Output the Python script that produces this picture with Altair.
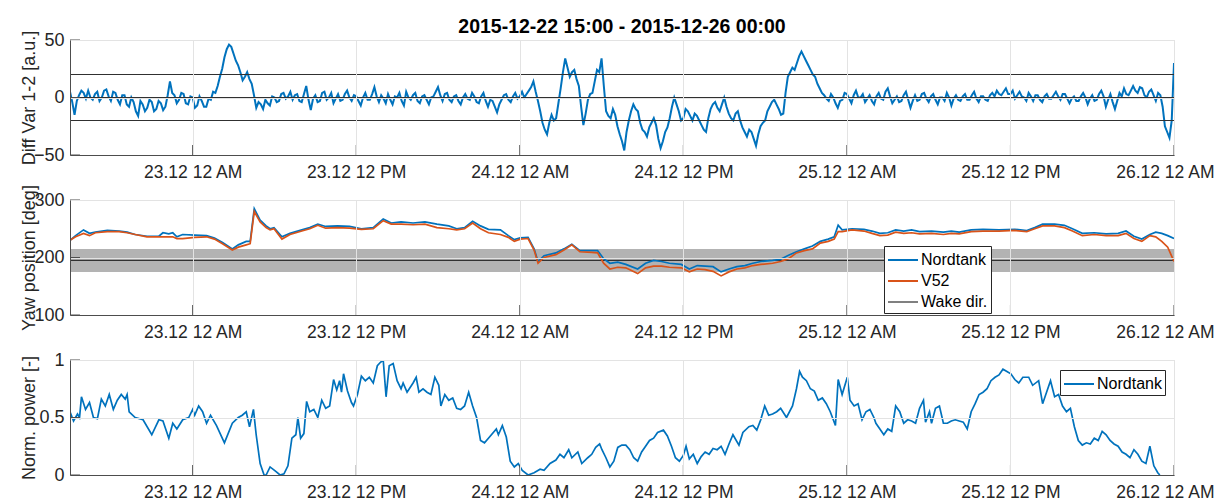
import altair as alt
import pandas as pd

# ---------------- data ----------------
START = pd.Timestamp("2015-12-22 15:00")
END = pd.Timestamp("2015-12-26 00:00")
TITLE = "2015-12-22 15:00 - 2015-12-26 00:00"
TICK_HOURS = [9, 21, 33, 45, 57, 69, 81]          # hours after START

# Panel 1: Diff Var 1-2, sampled every 10 min from START (one row per hour)
diff_step_min = 10
diff_values = [
    5, -4, -15, -3, 2, 6,   4, -1, 6, 0, -2, 3,   5, -3, 0, 6, 7, 1,
    -3, 5, 4, -2, -6, 2,   2, -6, -8, 0, -4, -12,   -16, -3, -6, -12, -9, -2,
    -4, -12, -10, -3, -5, -11,   -8, 2, 14, 4, 2, -5,   -2, 4, 3, -5, -6, 1,
    0, -9, -7, 1, -3, -8,   -8, -1, -2, 5, 4, 10,   18, 25, 35, 42, 46, 44,
    38, 32, 28, 22, 15, 18,   22, 16, 12, 2, -9, -4,   -6, -10, -2, -5, -7, 1,
    0, -4, -3, 3, 4, -1,   1, 5, -2, 2, 3, -3,   -4, 3, 10, -2, -11, -1,
    2, -4, -3, 4, 5, -2,   0, 4, -5, -1, 3, -3,   -2, 3, 6, 0, -3, 2,
    1, -3, -7, 0, 4, -2,   -2, 3, 9, 1, -4, 2,   -1, -5, 3, -2, -6, 1,
    0, 4, -3, -7, 5, 0,   -2, 2, 4, -3, -5, 1,   2, -2, -6, 0, 1, 5,
    9, 2, -3, 3, 4, -2,   -4, 1, 2, -3, -6, 0,   3, -1, -2, 4, 1, -4,
    -5, 1, 4, -3, -8, -2,   -3, -8, -13, -6, -2, 2,   3, -2, -4, 1, 4, -1,
    1, 5, 0, 3, 6, 9,   14, 5, -3, -12, -22, -28,   -32, -22, -15, -20, -18, -5,
    8, 22, 34, 26, 18, 22,   24, 16, 10, -8, -24, -14,   -2, 3, 4, 14, 24, 22,
    34, 10, -12, -16, -18, -10,   -15, -25, -32, -38, -46, -30,   -20, -12, -6, -10, -12, -22,
    -28, -30, -34, -26, -22, -18,   -24, -36, -44, -38, -30, -26,   -18, -8, 0, -6, -12, -20,
    -18, -10, -12, -16, -20, -14,   -16, -20, -24, -28, -30, -18,   -10, -6, -4, -9, -12, -6,
    0, -8, -14, -18, -20, -14,   -12, -20, -26, -30, -34, -28,   -30, -36, -42, -32, -25, -22,
    -20, -12, -8, -4, -2, -6,   -10, -15, -14, 4, 18, 22,   26, 24, 30, 36, 40, 36,
    32, 28, 24, 20, 18, 12,   8, 4, 2, -1, -3, 3,   0, -5, -9, -3, -2, 4,
    3, -1, -5, 2, 6, 0,   0, 3, -4, -1, 2, -3,   -6, 1, 4, -1, -2, 5,
    8, 1, -5, -2, 1, -4,   -3, 2, 5, -2, -9, -3,   2, -3, -2, 3, 4, -1,
    -4, 1, 3, -2, -6, 0,   0, -3, 4, 0, -7, -1,   2, -2, -3, 1, 3, -2,
    -2, 2, 5, -1, -4, 1,   1, -2, -3, 2, 4, 1,   6, 3, 2, 5, 8, 3,
    3, 6, -1, 2, 5, 1,   0, -3, 4, 1, -3, 2,   2, -2, -4, 1, 3, -1,
    -1, 2, 5, 1, -2, 3,   3, -1, -5, -1, 1, -3,   -3, 1, 4, 0, -6, -1,
    2, -3, -2, 3, 6, 1,   -8, -2, 3, -4, -10, -3,   4, 1, 8, 3, 2, 6,
    10, 6, 4, 9, 8, 2,   0, 5, 7, 2, -3, 4,   2, -8, -25, -30, -35, -20,
    30,
]
diff_ref_lines = [-20, 0, 20]
diff_ticks = [-50, 0, 50]

# Panel 2: yaw positions (hours after START)
yaw_hours = [
    0.00, 0.41, 0.99, 1.43, 1.86, 2.74, 3.61, 4.19, 4.78, 5.65,
    6.52, 6.82, 7.25, 7.54, 7.84, 8.27, 9.15, 10.02, 10.60, 11.19,
    11.91, 12.35, 12.93, 13.22, 13.52, 13.95, 14.39, 14.68, 14.97, 15.55,
    16.14, 17.01, 17.59, 18.18, 18.76, 19.63, 20.51, 21.38, 22.25, 22.98,
    23.57, 24.29, 25.17, 26.04, 26.92, 27.79, 28.37, 28.95, 29.54, 30.12,
    30.70, 31.58, 32.16, 32.60, 33.03, 33.61, 34.05, 34.34, 34.78, 35.65,
    36.24, 36.82, 37.41, 38.28, 38.71, 39.15,
    39.61, 40.19, 40.78, 41.65, 42.23, 42.82, 43.40, 43.98, 44.85, 45.44,
    46.02, 46.60, 47.18, 47.77, 48.35, 48.93, 49.51, 50.10, 50.68, 51.55,
    52.14, 52.72, 53.30, 53.88, 54.47, 55.05, 55.63, 56.07, 56.36, 56.65,
    57.38, 58.25, 58.84, 59.42, 60.00, 60.58, 61.17, 61.75, 62.33, 63.21,
    64.08, 64.66, 65.24, 66.12, 66.99, 68.16, 69.32, 70.20, 70.78, 71.36,
    72.24, 72.96, 73.55, 74.27, 75.15, 76.02, 76.90, 77.48, 78.06, 78.64,
    79.23, 79.66, 80.10, 80.54, 81.00,
]
yaw_nordtank = [
    230, 238, 248, 242, 244, 247, 246, 244, 240, 237,
    237, 243, 241, 243, 236, 240, 239, 238, 234, 226,
    215, 222, 228, 228, 285, 265, 255, 250, 252, 236,
    242, 248, 252, 258, 254, 255, 254, 250, 252, 267,
    260, 262, 260, 262, 258, 255, 250, 252, 263, 255,
    249, 248, 238, 231, 234, 235, 215, 193, 203, 208,
    215, 223, 212, 212, 212, 198,
    190, 192, 188, 180, 190, 195, 193, 190, 188, 180,
    186, 185, 184, 175, 180, 184, 186, 190, 193, 195,
    197, 204, 210, 215, 220, 228, 232, 236, 256, 248,
    250, 249, 246, 242, 243, 248, 246, 248, 245, 246,
    244, 246, 244, 248, 249, 248, 249, 247, 252, 258,
    258, 256, 250, 242, 243, 241, 242, 246, 237, 232,
    240, 244, 242, 238, 233,
]
yaw_v52 = [
    230, 236, 242, 238, 243, 245, 245, 243, 240, 236,
    236, 236, 236, 236, 233, 233, 235, 236, 232, 224,
    213, 218, 222, 224, 280, 262, 252, 248, 250, 232,
    240, 246, 250, 256, 251, 252, 251, 249, 250, 264,
    258, 258, 257, 258, 252, 250, 248, 250, 260, 250,
    243, 240, 235, 228, 232, 233, 213, 190, 200, 205,
    213, 222, 210, 209, 208, 190,
    180, 183, 182, 172, 182, 185, 185, 183, 182, 175,
    180, 179, 176, 168, 175, 180, 182, 186, 188, 190,
    193, 198, 208, 212, 215, 225, 228, 232, 245, 245,
    248, 246, 242, 238, 239, 244, 242, 243, 241, 242,
    240, 242, 241, 245, 246, 246, 247, 245, 250, 255,
    255, 252, 246, 238, 240, 238, 238, 242, 233, 228,
    238, 236, 228, 218, 193,
]
wake_dir = 195
wake_halfwidth = 20
yaw_ticks = [100, 200, 300]

# Panel 3: normalised power (hours after START)
power_hours = [
    0.00, 0.26, 0.55, 0.70, 0.84, 1.14, 1.43, 1.72, 2.01, 2.30,
    2.59, 2.88, 3.18, 3.47, 3.76, 4.05, 4.19, 4.34, 4.78, 5.36,
    6.00, 6.52, 6.82, 7.25, 7.54, 7.84, 8.27, 8.71, 9.00, 9.15,
    9.44, 9.73, 10.02, 10.31, 10.75, 11.33, 11.91, 12.35, 12.64, 12.93,
    13.17, 13.46, 13.66, 13.95, 14.24, 14.39, 14.68, 15.12, 15.41, 15.70,
    15.99, 16.28, 16.57, 16.72, 16.92, 17.16, 17.36, 17.59, 17.89, 18.18,
    18.47, 18.76, 19.05, 19.34, 19.57, 19.78, 19.92, 20.07, 20.36, 20.65,
    20.80, 21.09, 21.38, 21.67, 21.96, 22.25, 22.55, 22.78, 22.98, 23.19,
    23.42, 23.71, 24.00, 24.29, 24.44, 24.73, 25.17, 25.40, 25.60, 25.90,
    26.19, 26.48, 26.77, 27.06, 27.21, 27.50, 27.79, 28.08, 28.37, 28.66,
    28.95, 29.25, 29.54, 29.83, 30.12, 30.41, 30.70, 31.28, 31.43, 31.72,
    32.01, 32.30, 32.60, 32.89, 33.18, 33.61, 34.05, 34.49, 34.78, 35.22,
    35.65, 35.95, 36.24, 36.59, 36.82, 37.26, 37.55, 37.99, 38.28, 38.57,
    38.86,
    39.03, 39.32, 39.61, 39.90, 40.19, 40.49, 40.78, 41.07, 41.36, 41.65,
    41.94, 42.23, 42.52, 42.82, 43.11, 43.54, 43.83, 44.13, 44.42, 44.71,
    45.00, 45.20, 45.44, 45.73, 46.02, 46.31, 46.60, 46.89, 47.18, 47.48,
    47.77, 48.06, 48.35, 48.64, 49.08, 49.37, 49.81, 50.10, 50.39, 50.68,
    50.97, 51.26, 51.55, 51.85, 52.14, 52.57, 53.01, 53.30, 53.53, 53.74,
    54.03, 54.32, 54.61, 54.90, 55.20, 55.49, 55.78, 56.16, 56.36, 56.65,
    57.03, 57.23, 57.53, 57.82, 58.11, 58.40, 58.69, 58.98, 59.13, 59.42,
    59.71, 60.00, 60.29, 60.58, 60.88, 61.17, 61.46, 61.75, 62.04, 62.33,
    62.62, 62.77, 63.06, 63.21, 63.50, 63.79, 64.08, 64.37, 64.66, 64.95,
    65.24, 65.54, 65.83, 66.12, 66.41, 66.70, 66.99, 67.28, 67.57, 67.87,
    68.16, 68.45, 68.74, 69.03, 69.32, 69.61, 69.91, 70.34, 70.63, 71.07,
    71.36, 71.65, 71.94, 72.24, 72.53, 72.82, 73.11, 73.40, 73.69, 73.98,
    74.27, 74.57, 74.86, 75.15, 75.44, 75.73, 76.02, 76.31, 76.60, 76.90,
    77.19, 77.48, 77.77, 78.06, 78.35, 78.64, 78.94, 79.23, 79.52, 79.81,
    79.96,
]
power_values = [
    0.55, 0.47, 0.53, 0.5, 0.68, 0.57, 0.63, 0.5, 0.49, 0.66,
    0.6, 0.7, 0.57, 0.65, 0.7, 0.66, 0.7, 0.55, 0.5, 0.48,
    0.35, 0.48, 0.47, 0.32, 0.45, 0.4, 0.48, 0.5, 0.57, 0.52,
    0.6, 0.55, 0.45, 0.52, 0.43, 0.28, 0.45, 0.5, 0.52, 0.55,
    0.42, 0.57, 0.35, 0.1, 0.0, 0.0, 0.07, 0.03, 0.0, 0.01,
    0.08, 0.32, 0.35, 0.5, 0.32, 0.36, 0.64, 0.55, 0.57, 0.5,
    0.65, 0.58, 0.6, 0.83, 0.74, 0.82, 0.72, 0.88, 0.73, 0.63,
    0.6, 0.7, 0.86, 0.82, 0.85, 0.8, 0.95, 0.98, 1.0, 0.68,
    0.95, 0.97, 0.82, 0.75, 0.8, 0.72, 0.8, 0.85, 0.72, 0.75,
    0.72, 0.7, 0.85, 0.78, 0.6, 0.7, 0.65, 0.67, 0.58, 0.57,
    0.6, 0.72, 0.6, 0.5, 0.3, 0.28, 0.32, 0.4, 0.35, 0.43,
    0.33, 0.12, 0.07, 0.1, 0.04, 0.0, 0.02, 0.05, 0.04, 0.1,
    0.13, 0.18, 0.15, 0.22, 0.15, 0.2, 0.1, 0.15, 0.18, 0.24,
    0.27,
    0.22, 0.15, 0.07, 0.12, 0.24, 0.26, 0.26, 0.22, 0.15, 0.12,
    0.2, 0.25, 0.3, 0.32, 0.37, 0.39, 0.34, 0.25, 0.15, 0.12,
    0.17, 0.25, 0.14, 0.18, 0.10, 0.16, 0.2, 0.18, 0.23, 0.22,
    0.25, 0.18, 0.27, 0.35, 0.26, 0.37, 0.42, 0.43, 0.39, 0.48,
    0.6, 0.52, 0.53, 0.55, 0.58, 0.5, 0.6, 0.75, 0.9, 0.85,
    0.82, 0.75, 0.73, 0.65, 0.67, 0.62, 0.55, 0.43, 0.83, 0.7,
    0.85, 0.65, 0.6, 0.62, 0.48, 0.55, 0.57, 0.5, 0.45, 0.4,
    0.35, 0.4, 0.38, 0.6, 0.55, 0.45, 0.48, 0.47, 0.45, 0.58,
    0.65, 0.46, 0.55, 0.45, 0.58, 0.6, 0.45, 0.45, 0.47, 0.48,
    0.47, 0.46, 0.4, 0.55, 0.62, 0.7, 0.72, 0.75, 0.82, 0.85,
    0.87, 0.92, 0.9, 0.88, 0.83, 0.8, 0.85, 0.85, 0.78, 0.82,
    0.62, 0.72, 0.82, 0.68, 0.7, 0.6, 0.55, 0.58, 0.42, 0.3,
    0.26, 0.28, 0.27, 0.32, 0.3, 0.38, 0.35, 0.3, 0.27, 0.25,
    0.2, 0.18, 0.15, 0.22, 0.18, 0.12, 0.1, 0.25, 0.08, 0.02,
    0.0,
]
power_ticks = [0, 0.5, 1]

SERIES = ["Nordtank", "V52", "Wake dir."]
COLORS = ["#0072BD", "#D95319", "#808080"]

# ---------------- styling ----------------
FONT = "Liberation Sans"
TXT = "#262626"
AXC = "#4d4d4d"
GRID = "#e3e3e3"
W, H = 1104, 115


def hrs(h):
    return START + pd.Timedelta(hours=h)


def dt(ts):
    return alt.DateTime(year=ts.year, month=ts.month, date=ts.day,
                        hours=ts.hour, minutes=ts.minute)


tick_dts = [dt(hrs(h)) for h in TICK_HOURS]
x_scale = alt.Scale(domain=[dt(START), dt(END)], nice=False)


def x_axis():
    return alt.Axis(values=tick_dts, format="%d.%m %I %p", formatType="time",
                    title=None, labelFont=FONT, labelFontSize=17.5, labelColor=TXT,
                    labelPadding=8, labelOverlap=False,
                    labelFlush=1, labelFlushOffset=40,
                    ticks=False, tickSize=0, domainColor=AXC, domainWidth=1,
                    grid=True, gridColor=GRID, gridWidth=1, zindex=1)


def y_axis(title, values, fmt):
    return alt.Axis(values=values, title=title, format=fmt,
                    labelFont=FONT, labelFontSize=18, labelColor=TXT,
                    labelPadding=6, ticks=False, tickSize=0,
                    domainColor=AXC, domainWidth=1,
                    grid=True, gridColor=GRID, gridWidth=1,
                    titleFont=FONT, titleFontSize=18, titleFontWeight="normal",
                    titleColor=TXT, titleAngle=270, titleX=-36, titleY=H / 2,
                    titleAlign="center", titleBaseline="alphabetic", zindex=1)


def tick_layers(y_values):
    bt = pd.DataFrame({"t": [hrs(h) for h in TICK_HOURS]})
    lt = pd.DataFrame({"v": y_values})
    bottom = alt.Chart(bt).mark_rule(color=AXC, strokeWidth=1).encode(
        x=alt.X("t:T"), y=alt.value(H), y2=alt.value(H - 10))
    left = alt.Chart(lt).mark_rule(color=AXC, strokeWidth=1).encode(
        y=alt.Y("v:Q"), x=alt.value(0), x2=alt.value(10))
    return [bottom, left]


def legend(x, y):
    return alt.Legend(title=None, orient="none", legendX=x, legendY=y,
                      fillColor="white", strokeColor=TXT, padding=3,
                      labelFont=FONT, labelFontSize=16, labelColor="#000",
                      symbolType="M-1.5,0H1.5", symbolSize=400,
                      symbolStrokeWidth=2, symbolOffset=5,
                      rowPadding=2, labelOffset=7, labelLimit=300, zindex=2)


# ---------------- panel 1 ----------------
df1 = pd.DataFrame({
    "t": [START + pd.Timedelta(minutes=diff_step_min * i) for i in range(len(diff_values))],
    "v": diff_values,
})
ref1 = pd.DataFrame({"v": diff_ref_lines})
y1 = alt.Scale(domain=[diff_ticks[0], diff_ticks[-1]], nice=False, zero=False)

p1_ref = alt.Chart(ref1).mark_rule(color="#303030", strokeWidth=1).encode(
    y=alt.Y("v:Q", scale=y1))
p1_line = alt.Chart(df1).mark_line(color=COLORS[0], strokeWidth=2, clip=True).encode(
    x=alt.X("t:T", scale=x_scale, axis=x_axis()),
    y=alt.Y("v:Q", scale=y1, axis=y_axis("Diff Var 1-2 [a.u.]", diff_ticks, "d")),
)
p1 = alt.layer(p1_line, p1_ref, *tick_layers(diff_ticks)).properties(
    width=W, height=H,
    title=alt.TitleParams(TITLE, font=FONT, fontSize=19.5, fontWeight="bold",
                          color="#000", anchor="middle", frame="group", offset=-7),
)

# ---------------- panel 2 ----------------
df2 = pd.concat([
    pd.DataFrame({"t": [hrs(h) for h in yaw_hours], "v": yaw_nordtank, "series": SERIES[0]}),
    pd.DataFrame({"t": [hrs(h) for h in yaw_hours], "v": yaw_v52, "series": SERIES[1]}),
])
band = pd.DataFrame({"lo": [wake_dir - wake_halfwidth], "hi": [wake_dir + wake_halfwidth]})
wake = pd.DataFrame({"v": [wake_dir], "series": [SERIES[2]]})
y2 = alt.Scale(domain=[yaw_ticks[0], yaw_ticks[-1]], nice=False, zero=False)
c2 = alt.Scale(domain=SERIES, range=COLORS)

p2_band = alt.Chart(band).mark_rect(color="#b3b3b3").encode(
    y=alt.Y("lo:Q", scale=y2), y2="hi:Q")
p2_wake_leg = alt.Chart(wake).mark_rule(strokeWidth=1).encode(
    y=alt.Y("v:Q", scale=y2),
    color=alt.Color("series:N", scale=c2, legend=legend(814, 46)))
p2_wake = alt.Chart(wake).mark_rule(color="#262626", strokeWidth=1).encode(
    y=alt.Y("v:Q", scale=y2))
p2_lines = alt.Chart(df2).mark_line(strokeWidth=1.7, clip=True).encode(
    x=alt.X("t:T", scale=x_scale, axis=x_axis()),
    y=alt.Y("v:Q", scale=y2, axis=y_axis("Yaw position [deg]", yaw_ticks, "d")),
    color=alt.Color("series:N", scale=c2, legend=legend(814, 46)),
)
p2 = alt.layer(p2_band, p2_wake_leg, p2_wake, p2_lines, *tick_layers(yaw_ticks)).properties(
    width=W, height=H)

# ---------------- panel 3 ----------------
df3 = pd.DataFrame({"t": [hrs(h) for h in power_hours], "v": power_values,
                    "series": SERIES[0]})
y3 = alt.Scale(domain=[power_ticks[0], power_ticks[-1]], nice=False, zero=False)
c3 = alt.Scale(domain=[SERIES[0]], range=[COLORS[0]])
p3_line = alt.Chart(df3).mark_line(strokeWidth=1.7, clip=True).encode(
    x=alt.X("t:T", scale=x_scale, axis=x_axis()),
    y=alt.Y("v:Q", scale=y3, axis=y_axis("Norm. power [-]", power_ticks, "~g")),
    color=alt.Color("series:N", scale=c3, legend=legend(990, 10)),
)
p3 = alt.layer(p3_line, *tick_layers(power_ticks)).properties(width=W, height=H)

chart = alt.vconcat(p1, p2, p3, spacing=45, bounds="flush").resolve_scale(
    x="independent", y="independent", color="independent"
).resolve_legend(color="independent").properties(
    padding={"left": 11, "top": 8, "right": 0, "bottom": 0}
).configure_view(stroke=None).configure(background="white")

chart.save("out.html", embed_options={"renderer": "svg", "actions": False})
